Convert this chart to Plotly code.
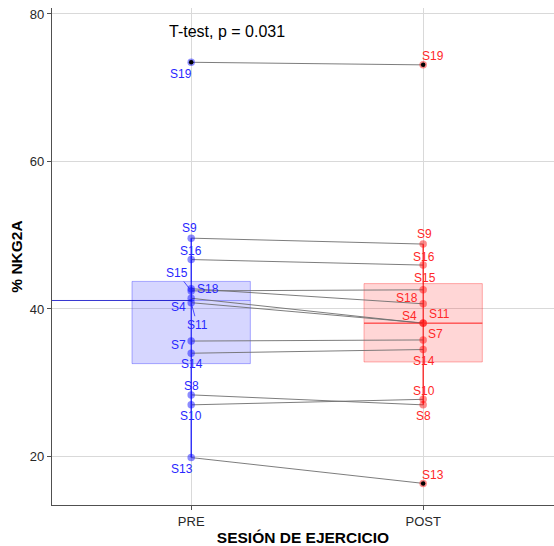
import numpy as np
import plotly.graph_objects as go

# ---------------- data ----------------
conditions = ["PRE", "POST"]
subjects = ["S19", "S9", "S16", "S15", "S18", "S4", "S11", "S7", "S14", "S8", "S10", "S13"]
pre_vals = [73.45, 49.6, 46.7, 42.45, 42.75, 41.45, 40.85, 35.65, 34.0, 28.35, 27.0, 19.85]
post_vals = [73.1, 48.8, 45.95, 42.6, 40.7, 38.05, 38.1, 35.8, 34.5, 27.0, 27.75, 16.35]
y_ticks = [20, 40, 60, 80]
test_label = "T-test, p = 0.031"

# ---------------- label placement (pixel offsets: dx right, dy down) -------------
pre_offsets = {
    "S19": (-10, 12), "S9": (-2, -10), "S16": (0, -9), "S15": (-14, -18),
    "S18": (17, 0), "S4": (-13, 9), "S11": (6, 22), "S7": (-13, 4),
    "S14": (1, 11), "S8": (0, -9), "S10": (0, 11), "S13": (-9, 11),
}
post_offsets = {
    "S19": (10, -9), "S9": (1, -10), "S16": (1, -8), "S15": (2, -12),
    "S18": (-16, -6), "S4": (-14, -7), "S11": (16, -9), "S7": (12, -6),
    "S14": (1, 11), "S10": (1, -8), "S8": (0, 11), "S13": (10, -8),
}
pre_arrows = {"S15", "S11"}

BLUE = "rgb(0,0,255)"
RED = "rgb(255,0,0)"
FONT = "Liberation Sans, Arial, sans-serif"


def stats(vals):
    v = np.asarray(vals, dtype=float)
    q1, med, q3 = np.percentile(v, [25, 50, 75])
    iqr = q3 - q1
    lo_f, hi_f = q1 - 1.5 * iqr, q3 + 1.5 * iqr
    inside = v[(v >= lo_f) & (v <= hi_f)]
    outl = v[(v < lo_f) | (v > hi_f)]
    return q1, med, q3, inside.min(), inside.max(), outl


fig = go.Figure()

box_styles = {
    "PRE": dict(fill="rgba(0,0,255,0.16)", line="rgba(0,0,255,0.3)", solid=BLUE,
                med="rgba(20,20,200,0.85)"),
    "POST": dict(fill="rgba(255,0,0,0.16)", line="rgba(255,0,0,0.3)", solid=RED,
                 med="rgba(255,40,40,0.6)"),
}
all_stats = {}
for cond, vals in zip(conditions, [pre_vals, post_vals]):
    q1, med, q3, lw, uw, outl = stats(vals)
    all_stats[cond] = (q1, med, q3, lw, uw, outl)
    st = box_styles[cond]
    fig.add_trace(go.Box(
        x=[cond], q1=[q1], median=[med], q3=[q3], lowerfence=[lw], upperfence=[uw],
        width=0.51, whiskerwidth=0, fillcolor=st["fill"],
        line=dict(color=st["line"], width=1), boxpoints=False,
        showlegend=False, hoverinfo="skip",
    ))
    # whisker line (solid)
    fig.add_trace(go.Scatter(x=[cond, cond], y=[lw, uw], mode="lines",
                             line=dict(color=st["solid"], width=1),
                             showlegend=False, hoverinfo="skip"))

# median lines
q1, med, q3, lw, uw, outl = all_stats["PRE"]
fig.add_shape(type="line", xref="x", yref="y", x0=-0.6, x1=0, y0=med, y1=med,
              line=dict(color=box_styles["PRE"]["med"], width=1))
q1, med, q3, lw, uw, outl = all_stats["POST"]
fig.add_shape(type="line", xref="x", yref="y", x0=1 - 0.255, x1=1 + 0.255, y0=med, y1=med,
              line=dict(color=box_styles["POST"]["med"], width=1.5))

# connecting lines
lx, ly = [], []
for a, b in zip(pre_vals, post_vals):
    lx += ["PRE", "POST", None]
    ly += [a, b, None]
fig.add_trace(go.Scatter(x=lx, y=ly, mode="lines",
                         line=dict(color="rgb(110,110,110)", width=0.9),
                         showlegend=False, hoverinfo="skip"))

# points
fig.add_trace(go.Scatter(x=["PRE"] * len(pre_vals), y=pre_vals, mode="markers",
                         marker=dict(size=7.5, color="rgba(0,0,255,0.45)", line=dict(width=0)),
                         showlegend=False, hoverinfo="skip"))
fig.add_trace(go.Scatter(x=["POST"] * len(post_vals), y=post_vals, mode="markers",
                         marker=dict(size=7.5, color="rgba(255,0,0,0.45)", line=dict(width=0)),
                         showlegend=False, hoverinfo="skip"))

# outliers (black)
for cond in conditions:
    outl = all_stats[cond][5]
    if len(outl):
        fig.add_trace(go.Scatter(x=[cond] * len(outl), y=list(outl), mode="markers",
                                 marker=dict(size=4.5, color="black"),
                                 showlegend=False, hoverinfo="skip"))

# labels
annotations = []
for cond, vals, offs, col in [("PRE", pre_vals, pre_offsets, "rgb(40,40,255)"),
                              ("POST", post_vals, post_offsets, "rgb(255,40,40)")]:
    for s, v in zip(subjects, vals):
        dx, dy = offs[s]
        if cond == "PRE" and s in pre_arrows:
            annotations.append(dict(x=cond, y=v, xref="x", yref="y", text=s,
                                    showarrow=True, ax=dx, ay=dy, arrowhead=0,
                                    arrowwidth=0.8, arrowcolor=col, standoff=2,
                                    font=dict(family=FONT, size=12, color=col)))
        else:
            annotations.append(dict(x=cond, y=v, xref="x", yref="y", text=s,
                                    showarrow=False, xshift=dx, yshift=-dy,
                                    xanchor="center", yanchor="middle",
                                    font=dict(family=FONT, size=12, color=col)))

annotations.append(dict(x=0.229, xref="paper", y=77.6, yref="y", text=test_label,
                        showarrow=False, xanchor="left", yanchor="middle",
                        font=dict(family=FONT, size=16, color="black")))

fig.update_layout(
    width=554, height=546,
    margin=dict(l=52, r=0, t=8, b=41),
    paper_bgcolor="white", plot_bgcolor="white",
    font=dict(family=FONT),
    annotations=annotations,
    showlegend=False,
    xaxis=dict(
        type="category", categoryorder="array", categoryarray=conditions,
        range=[-0.6, 1.564], showgrid=True, gridcolor="rgb(217,217,217)", gridwidth=1,
        showline=True, linecolor="rgb(80,80,80)", linewidth=1.2,
        ticks="outside", ticklen=4, tickcolor="rgb(80,80,80)",
        tickfont=dict(family=FONT, size=13, color="rgb(40,40,40)"),
        title=dict(text="<b>SESIÓN DE EJERCICIO</b>", standoff=5,
                   font=dict(family=FONT, size=15.5, color="black")),
        zeroline=False,
    ),
    yaxis=dict(
        range=[13.42, 80.81], tickvals=y_ticks,
        showgrid=True, gridcolor="rgb(217,217,217)", gridwidth=1,
        showline=True, linecolor="rgb(80,80,80)", linewidth=1.2,
        ticks="outside", ticklen=4, tickcolor="rgb(80,80,80)",
        tickfont=dict(family=FONT, size=13, color="rgb(40,40,40)"),
        title=dict(text="<b>% NKG2A</b>", standoff=3,
                   font=dict(family=FONT, size=15.5, color="black")),
        zeroline=False,
    ),
)

fig.write_html("out.html")
